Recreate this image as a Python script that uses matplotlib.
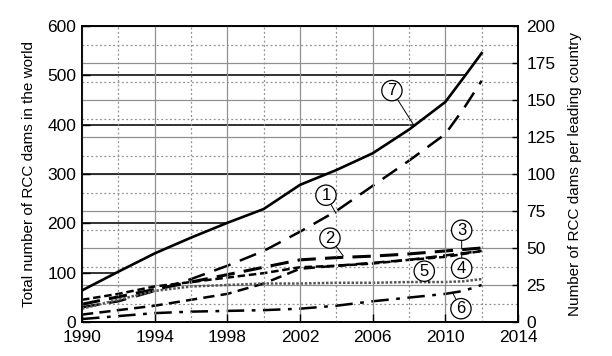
import numpy as np
import matplotlib
matplotlib.use("Agg")
import matplotlib.pyplot as plt
from matplotlib.ticker import MultipleLocator

plt.rcParams['font.family'] = ['Liberation Sans Narrow', 'Liberation Sans', 'DejaVu Sans']

years = [1990, 1992, 1994, 1996, 1998, 2000, 2002, 2004, 2006, 2008, 2010, 2011, 2012]
total_world = [64, 102, 139, 171, 201, 229, 278, 308, 342, 390, 446, 495, 545]
curve1 = [10, 14, 21, 29, 38, 48, 61, 75, 92, 109, 127, 144, 163]
curve2 = [12, 17, 22, 27, 32, 37, 42, 43.5, 44.5, 46, 48, 49, 50]
curve3 = [15, 19, 24, 27, 30, 33, 37, 38, 39.5, 42, 44, 46, 48]
curve4 = [5, 8, 11, 15, 19, 26, 36, 38, 40, 42, 45, 46.5, 48]
curve5 = [9, 15, 21, 24, 25, 26, 26, 26.5, 26.5, 27, 27, 27.5, 29]
curve6 = [2, 4, 6, 7, 7.5, 8, 9, 11, 14, 16.5, 19, 21, 25]
left_levels = [100, 200, 300, 400, 500]

fig = plt.figure(figsize=(6.12, 3.56), dpi=100)
ax = fig.add_axes([82/612, 1-322/356, 436/612, 296/356])
ax2 = ax.twinx()
ax.set_zorder(ax2.get_zorder() + 1)
ax.patch.set_visible(False)

ax.set_xlim(1990, 2014)
ax.set_ylim(0, 600)
ax2.set_ylim(0, 200)

ax.xaxis.set_major_locator(MultipleLocator(4, offset=2))
ax.xaxis.set_minor_locator(MultipleLocator(4))
ax.yaxis.set_major_locator(MultipleLocator(100))
ax2.yaxis.set_major_locator(MultipleLocator(25))
ax2.yaxis.set_minor_locator(MultipleLocator(12.5))

gc = '#909090'
ax.grid(axis='x', which='major', color=gc, lw=0.9, ls='-')
ax.grid(axis='x', which='minor', color=gc, lw=0.9, ls=(0, (1.5, 2)))
ax2.grid(axis='y', which='major', color=gc, lw=0.9, ls='-')
ax2.grid(axis='y', which='minor', color=gc, lw=0.9, ls=(0, (1.5, 2)))

# dark reading lines from left axis to the total curve
ends = np.interp(left_levels, total_world, years)
ax.hlines(left_levels, 1990, ends, color='#222222', lw=1.3, zorder=1.5)

k = 'black'
ax2.plot(years, curve1, color=k, lw=1.8, ls=(0, (7, 4)))
ax2.plot(years, curve2, color=k, lw=2.2, ls=(0, (6, 3)))
ax2.plot(years, curve3, color=k, lw=1.8, ls=(0, (3, 1.5)))
ax2.plot(years, curve4, color=k, lw=1.8, ls=(0, (4.5, 2.5)))
ax2.plot(years, curve5, color='#555555', lw=1.8, ls=(0, (1, 0.7)))
ax2.plot(years, curve6, color=k, lw=1.8, ls=(0, (7, 3, 1.5, 3)))
ax.plot(years, total_world, color=k, lw=1.9, zorder=3)

for a in (ax, ax2):
    for s in a.spines.values():
        s.set_color('black'); s.set_linewidth(1.2)

ax.tick_params(axis='both', which='major', direction='in', length=6, width=1.0,
               labelsize=12.5, colors='black', pad=4)
ax.tick_params(axis='x', which='major', pad=6)
ax.tick_params(axis='both', which='minor', length=0)
ax2.tick_params(axis='y', which='major', direction='in', length=4, width=1.0,
                labelsize=12.5, pad=6)
ax2.tick_params(axis='y', which='minor', length=0)

ax.set_ylabel('Total number of RCC dams in the world', fontsize=11, labelpad=8)
ax2.set_ylabel('Number of RCC dams per leading country', fontsize=11, labelpad=9)

labels = [
    ('1', (2003.43, 257), (2003.98, 220)),
    ('2', (2003.65, 170), (2004.38, 134)),
    ('7', (2007.06, 469), (2008.23, 401)),
    ('3', (2010.9, 186), (2010.9, 148)),
    ('4', (2010.9, 109), (2010.9, 142)),
    ('5', (2008.84, 103), (2009.1, 79)),
    ('6', (2010.86, 27), (2010.4, 59)),
]
for t, xy_text, xy in labels:
    ax.annotate(t, xy=xy, xytext=xy_text, ha='center', va='center', fontsize=12,
                bbox=dict(boxstyle='circle,pad=0.16', fc='white', ec='black', lw=0.9),
                arrowprops=dict(arrowstyle='-', color='black', lw=0.7,
                                shrinkA=0, shrinkB=0),
                zorder=5)

fig.savefig('out.png', dpi=100, facecolor='white')
